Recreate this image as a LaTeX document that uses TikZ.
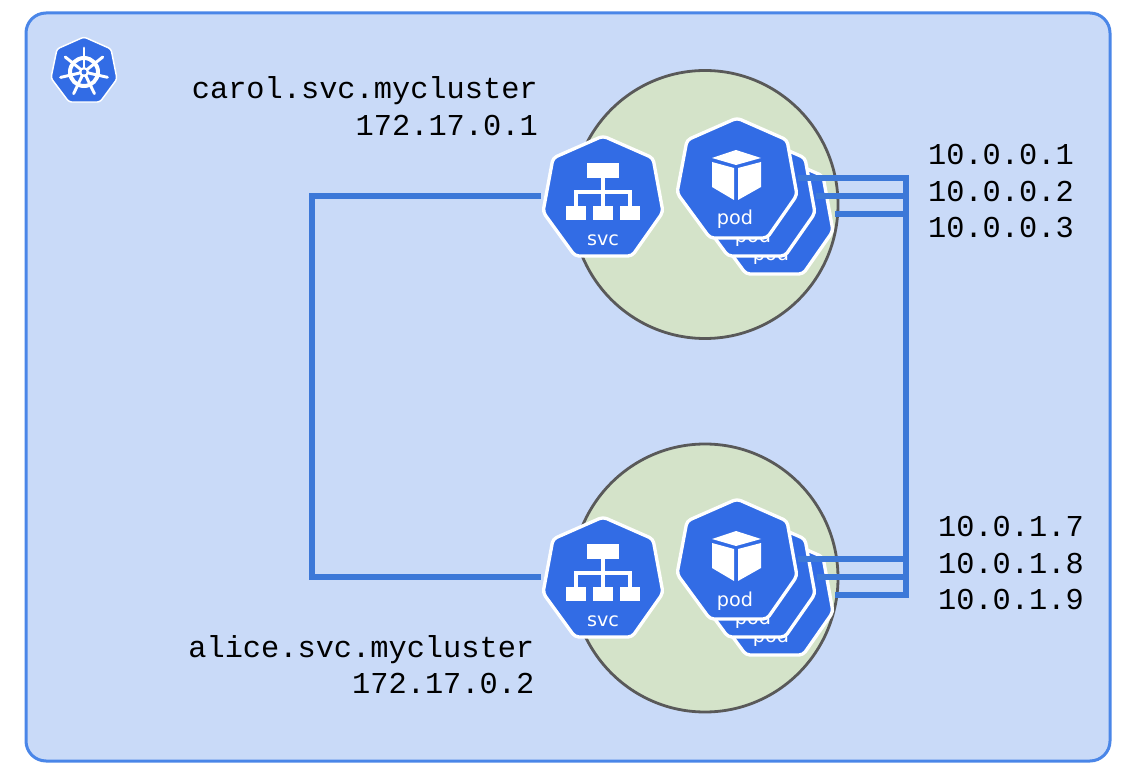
\documentclass[tikz,border=0pt]{standalone}
\usepackage{fontspec}
\usetikzlibrary{shapes.geometric}
\setmainfont{Liberation Mono}
\newfontfamily\iconfont{DejaVu Sans}
\definecolor{bgblue}{HTML}{C9DAF8}
\definecolor{bdblue}{HTML}{4A86E8}
\definecolor{kblue}{HTML}{326CE5}
\definecolor{wire}{HTML}{3C78D8}
\definecolor{leaf}{HTML}{D4E3C9}
\definecolor{rim}{HTML}{595959}
\tikzset{
  x=0.75pt,y=-0.75pt,
  panel/.style={draw=bdblue,fill=bgblue,line width=2.25pt,rounded corners=15pt},
  blob/.style={draw=rim,fill=leaf,line width=2.1pt,ellipse,inner sep=0pt,minimum width=199.5pt,minimum height=201pt},
  hept/.style={draw=white,fill=kblue,line width=2.5pt,rounded corners=3pt,line join=round},
  wirel/.style={draw=wire,line width=4.3pt},
  addr/.style={font=\fontsize{22.75}{27.7}\selectfont,align=right,anchor=base east,inner sep=0pt,text=black},
  iconlab/.style={font=\iconfont\fontsize{14.4}{16}\selectfont,text=white,inner sep=0pt,anchor=base},
  svcicon/.pic={
    \path[hept] (0,-60)--(50,-38)--(60,16)--(29,60)--(-28,60)--(-60,16)--(-50,-38)--cycle;
    \fill[white] (-16,-33) rectangle (16,-18);
    \fill[white] (-37,10) rectangle (-17,24);
    \fill[white] (-10,10) rectangle (10,24);
    \fill[white] (17,10) rectangle (37,24);
    \draw[white,line width=2.4pt] (0,-18)--(0,10) (-27,10)--(-27,-4)--(27,-4)--(27,10);
    \node[iconlab] at (0,49.5) {svc};
    \coordinate (-west) at (-62,0);
  },
  podicon/.pic={
    \path[hept] (0,-60)--(50,-38)--(60,17)--(30,60)--(-27,60)--(-60,15)--(-50,-38)--cycle;
    \fill[white] (-1,-28)--(24,-20)--(-1,-13)--(-25,-20)--cycle;
    \fill[white] (-25,-16)--(-3,-10)--(-3,22)--(-25,9)--cycle;
    \fill[white] (1,-10)--(24,-16)--(24,9)--(1,22)--cycle;
    \node[iconlab] at (-2,47) {pod};
  },
  wheelicon/.pic={
    \path[draw=white,fill=kblue,line width=1.1pt,rounded corners=2pt,line join=round]
      (0,-33)--(27,-21)--(33,9)--(16,32)--(-15,32)--(-33,8)--(-27,-21)--cycle;
    \draw[white,line width=3pt] (0,2) circle (14);
    \foreach \a in {270,321.4,12.8,64.2,115.6,167,218.6}
      \draw[white,line width=2.2pt,line cap=round] (0,2)++(\a:4) -- ++(\a:20);
    \fill[white] (0,2) circle (5);
    \fill[kblue] (0,2) circle (2.5);
  }
}
\begin{document}
\begin{tikzpicture}
\useasboundingbox (0,0) rectangle (1139,773);
\fill[white] (0,0) rectangle (1139,773);
\path[panel] (26,13) rectangle (1110,761);
\pic at (84,70) {wheelicon};
\node[blob] (clusterA) at (705,204.5) {};
\node[blob] (clusterB) at (705,578) {};
% top group
\pic (podA3) at (773,214) {podicon};
\pic (podA2) at (755,196) {podicon};
\pic (podA1) at (737,178) {podicon};
\pic (svcA) at (603,196) {svcicon};
% bottom group
\pic (podB3) at (773,595) {podicon};
\pic (podB2) at (755,577) {podicon};
\pic (podB1) at (737,559) {podicon};
\pic (svcB) at (603,577) {svcicon};
% connector ends
\coordinate (a1) at (798,178);
\coordinate (a2) at (816,196);
\coordinate (a3) at (835,214);
\coordinate (b1) at (798,559);
\coordinate (b2) at (817,577);
\coordinate (b3) at (835,595);
\coordinate (busTop) at (906,178);
\coordinate (busBot) at (906,595);
\coordinate (leftTop) at (312,196);
\coordinate (leftBot) at (312,577);
\draw[wirel] (svcA-west) -- (leftTop) -- (leftBot) -- (svcB-west);
\draw[wirel] (a1) -- (busTop) -- (busBot) -- (b3);
\draw[wirel] (a2) -- (a2-|busTop);
\draw[wirel] (a3) -- (a3-|busTop);
\draw[wirel] (b1) -- (b1-|busTop);
\draw[wirel] (b2) -- (b2-|busTop);
% labels
\node[addr] (carol) at (538,99) {carol.svc.mycluster};
\node[addr] (carolip) at (538,136) {172.17.0.1};
\node[addr] (alice) at (534.5,657) {alice.svc.mycluster};
\node[addr] (aliceip) at (534.5,693) {172.17.0.2};
\node[addr] (ipa1) at (1074,165) {10.0.0.1};
\node[addr] (ipa2) at (1074,202) {10.0.0.2};
\node[addr] (ipa3) at (1074,238) {10.0.0.3};
\node[addr] (ipb1) at (1084,536) {10.0.1.7};
\node[addr] (ipb2) at (1084,573) {10.0.1.8};
\node[addr] (ipb3) at (1084,609) {10.0.1.9};
\end{tikzpicture}
\end{document}
